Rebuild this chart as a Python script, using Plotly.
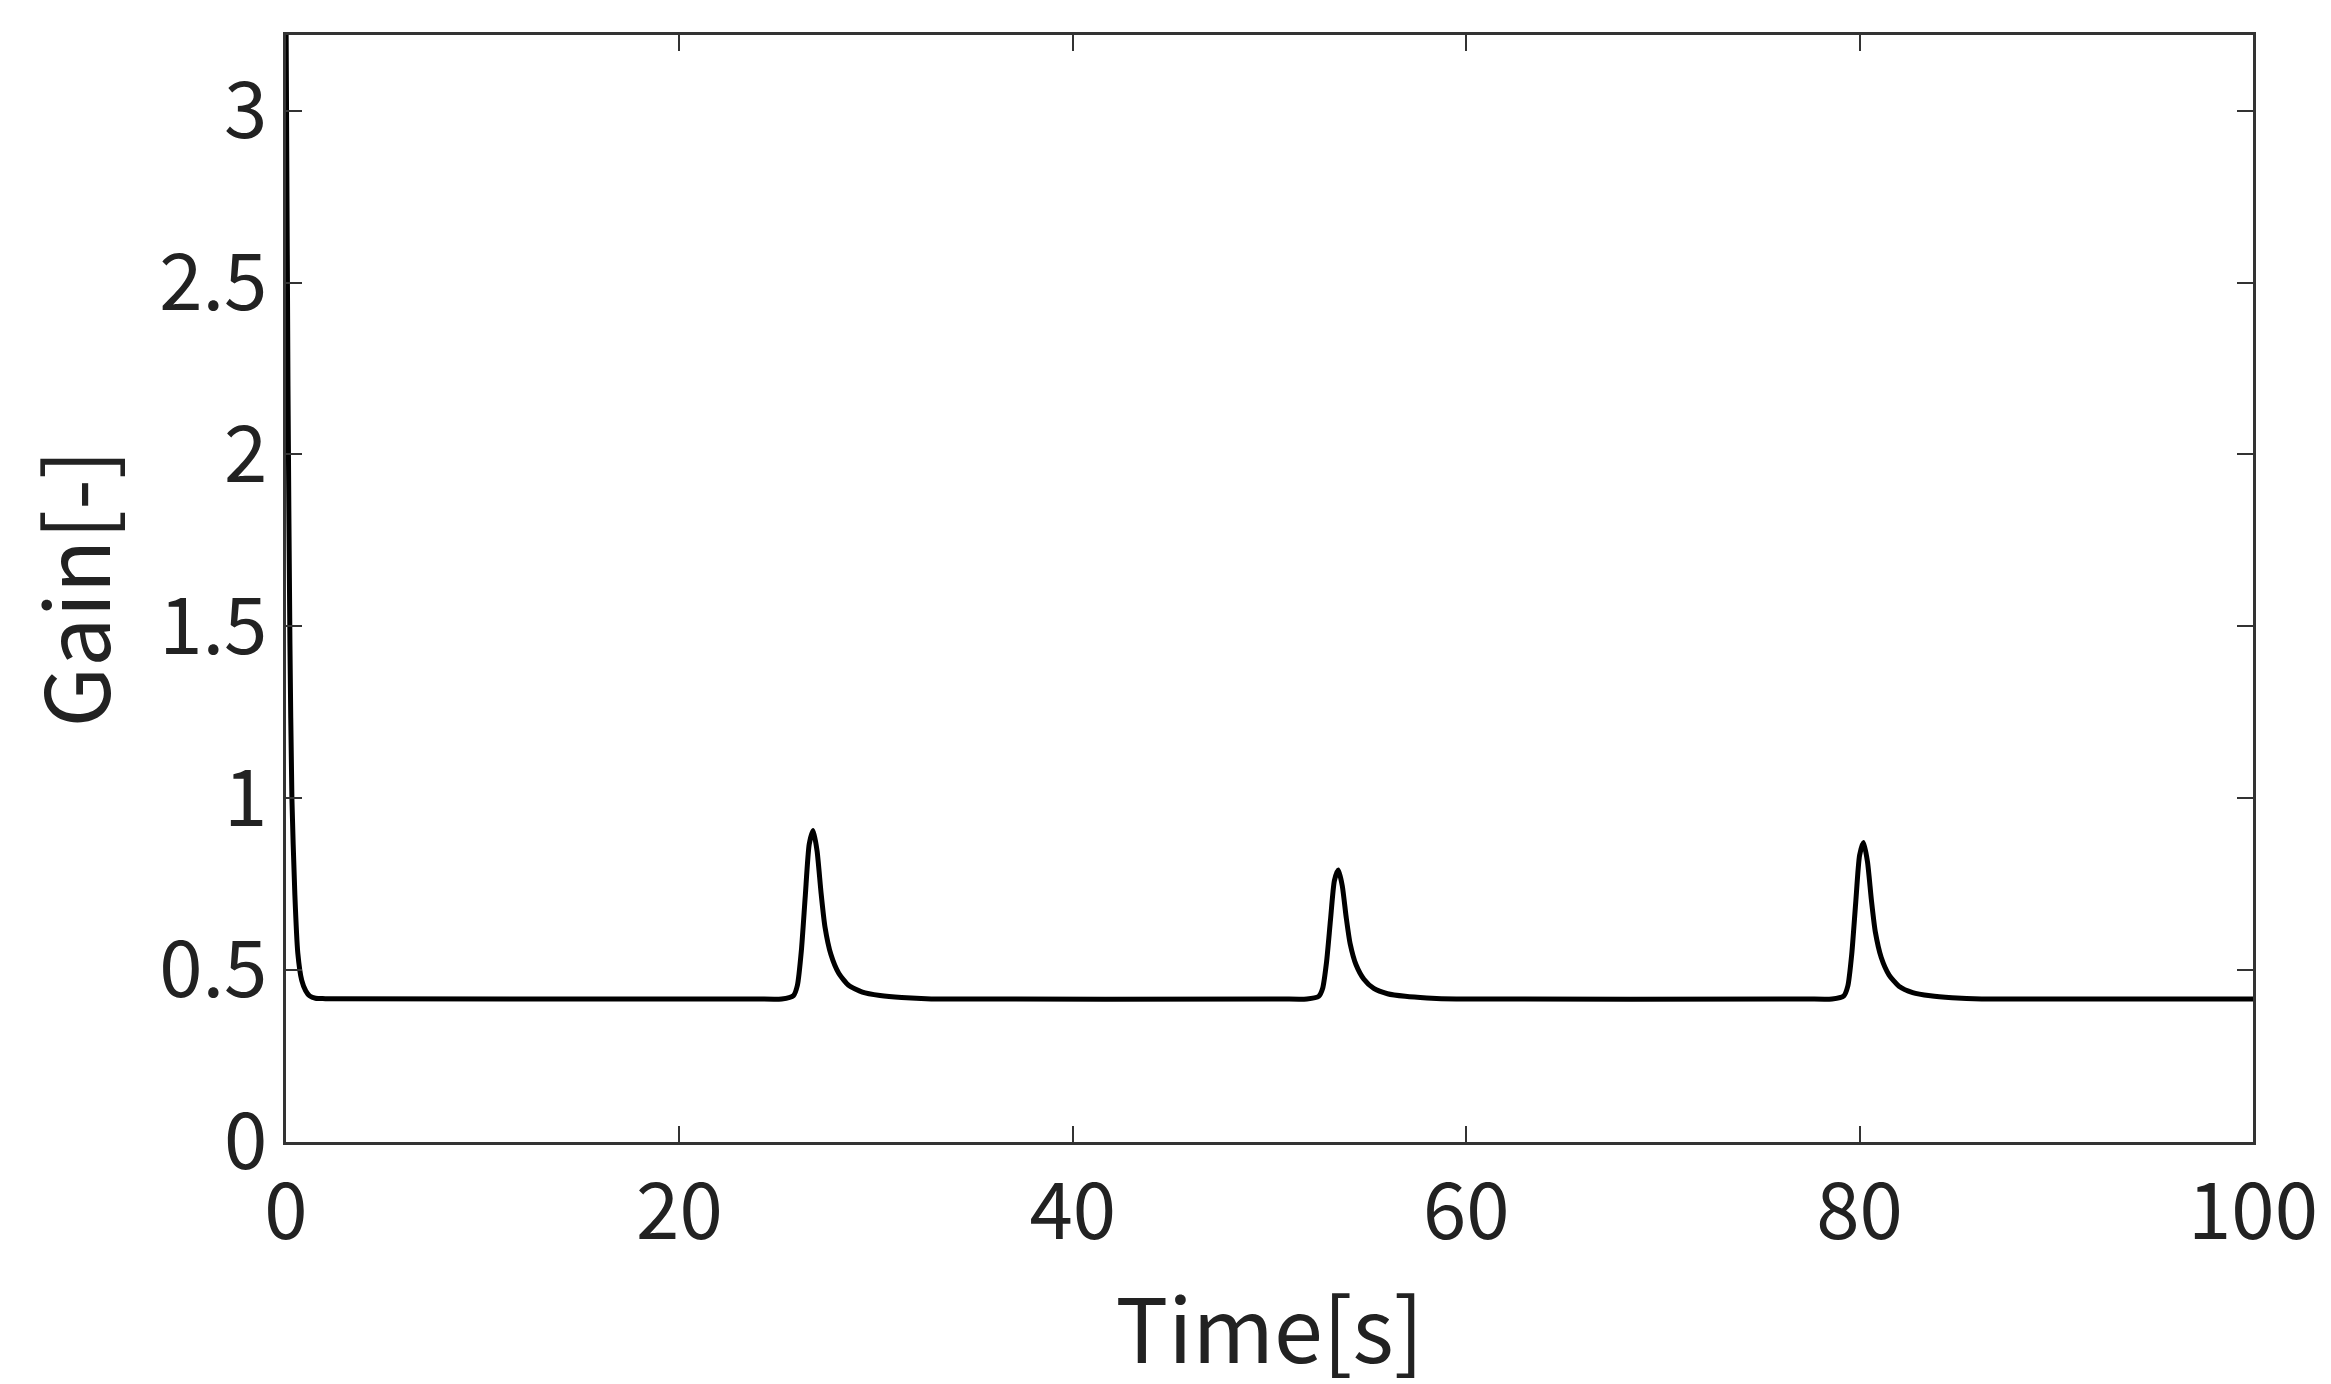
import plotly.graph_objects as go

t_init = [0.0, 0.1, 0.2, 0.3, 0.45, 0.6, 0.8, 1.0, 1.2, 1.5, 2.0]
g_init = [3.3, 2.2, 1.45, 1.0, 0.72, 0.55, 0.47, 0.44, 0.425, 0.418, 0.417]

peak_rel_t = [-1.6, -1.0, -0.8, -0.6, -0.4, -0.2, 0.0, 0.2, 0.4, 0.6, 0.9, 1.3, 1.8, 2.5, 3.4, 4.5, 6.0]
peak_rel_g1 = [0.0, 0.01, 0.04, 0.14, 0.30, 0.45, 0.49, 0.43, 0.31, 0.21, 0.13, 0.075, 0.04, 0.02, 0.01, 0.004, 0.0]
peak_centers = [26.8, 53.5, 80.2]
peak_heights = [0.49, 0.375, 0.455]
baseline = 0.416

x_vals = list(t_init)
y_vals = list(g_init)
for c, h in zip(peak_centers, peak_heights):
    x_vals.append(c - 3.0); y_vals.append(baseline)
    for dt, dg in zip(peak_rel_t, peak_rel_g1):
        x_vals.append(c + dt); y_vals.append(baseline + dg * h / 0.49)
x_vals.append(100.0); y_vals.append(baseline)

fig = go.Figure(go.Scatter(x=x_vals, y=y_vals, mode="lines",
                           line=dict(color="black", width=5, shape="spline", smoothing=0.6),
                           showlegend=False))
font = dict(family="Noto Sans CJK JP", size=78, color="#222222")
ax = dict(showline=True, linecolor="#333333", linewidth=3, mirror="ticks", ticks="inside",
          ticklen=16, tickwidth=2, tickcolor="#333333", showgrid=False, zeroline=False,
          tickfont=font)
fig.update_layout(
    width=2331, height=1384, plot_bgcolor="white", paper_bgcolor="white",
    margin=dict(l=278, r=86, t=27, b=250),
    xaxis=dict(ax, range=[0, 100], tickvals=[0, 20, 40, 60, 80, 100],
               title=dict(text="Time[s]", font=dict(font, size=88), standoff=20)),
    yaxis=dict(ax, range=[0, 3.22], tickvals=[0, 0.5, 1, 1.5, 2, 2.5, 3],
               ticktext=["0", "0.5", "1", "1.5", "2", "2.5", "3"],
               title=dict(text="Gain[-]", font=dict(font, size=88), standoff=20)),
)
fig.write_html("out.html")
